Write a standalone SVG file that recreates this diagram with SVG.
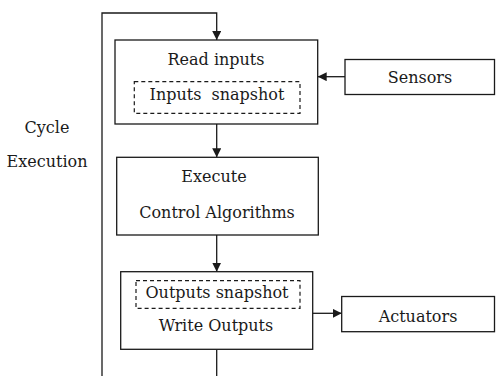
<svg xmlns="http://www.w3.org/2000/svg" width="496" height="376" viewBox="0 0 496 376">
<style>
.box{fill:#fff;stroke:#1a1a1a;stroke-width:1.3}
.dash{fill:none;stroke:#1a1a1a;stroke-width:1.2;stroke-dasharray:4 3}
.ln{fill:none;stroke:#1a1a1a;stroke-width:1.3}
text{font-family:"DejaVu Serif","Liberation Serif",serif;font-size:16px;fill:#1a1a1a;text-anchor:middle}
</style>
<defs>
<marker id="ah" viewBox="0 0 10 10" refX="10" refY="5" markerWidth="9" markerHeight="9" markerUnits="userSpaceOnUse" orient="auto">
<path d="M0,0 L10,5 L0,10 Z" fill="#1a1a1a"/>
</marker>
</defs>
<g id="connectors">
<path class="ln" d="M216.7,376 L216.7,350"/>
<path class="ln" d="M102,376 L102,13 L216.7,13 L216.7,40" marker-end="url(#ah)"/>
<path class="ln" d="M345,76.7 L317.7,76.7" marker-end="url(#ah)"/>
<path class="ln" d="M216.7,124 L216.7,157.3" marker-end="url(#ah)"/>
<path class="ln" d="M216.7,235 L216.7,271.7" marker-end="url(#ah)"/>
<path class="ln" d="M312.7,313.3 L341.7,313.3" marker-end="url(#ah)"/>
</g>
<g id="label-cycle">
<text x="47" y="132.5">Cycle</text>
<text x="47" y="166.5">Execution</text>
</g>
<g id="read-inputs">
<rect class="box" x="115" y="40" width="202.7" height="84"/>
<text x="216" y="65.3">Read inputs</text>
<rect class="dash" x="134.3" y="81.7" width="165.7" height="31.6"/>
<text x="217" y="100" xml:space="preserve">Inputs  snapshot</text>
</g>
<g id="sensors">
<rect class="box" x="345" y="59.5" width="149.5" height="35"/>
<text x="420" y="83">Sensors</text>
</g>
<g id="execute">
<rect class="box" x="116.7" y="157.3" width="201.6" height="77.7"/>
<text x="214" y="182.3">Execute</text>
<text x="217" y="218.3">Control Algorithms</text>
</g>
<g id="write-outputs">
<rect class="box" x="120.7" y="271.7" width="192" height="77.6"/>
<rect class="dash" x="136" y="280.7" width="164" height="27.6"/>
<text x="217" y="298.3">Outputs snapshot</text>
<text x="216" y="331">Write Outputs</text>
</g>
<g id="actuators">
<rect class="box" x="341.7" y="296.5" width="152.8" height="35.2"/>
<text x="418" y="321.7">Actuators</text>
</g>
</svg>
